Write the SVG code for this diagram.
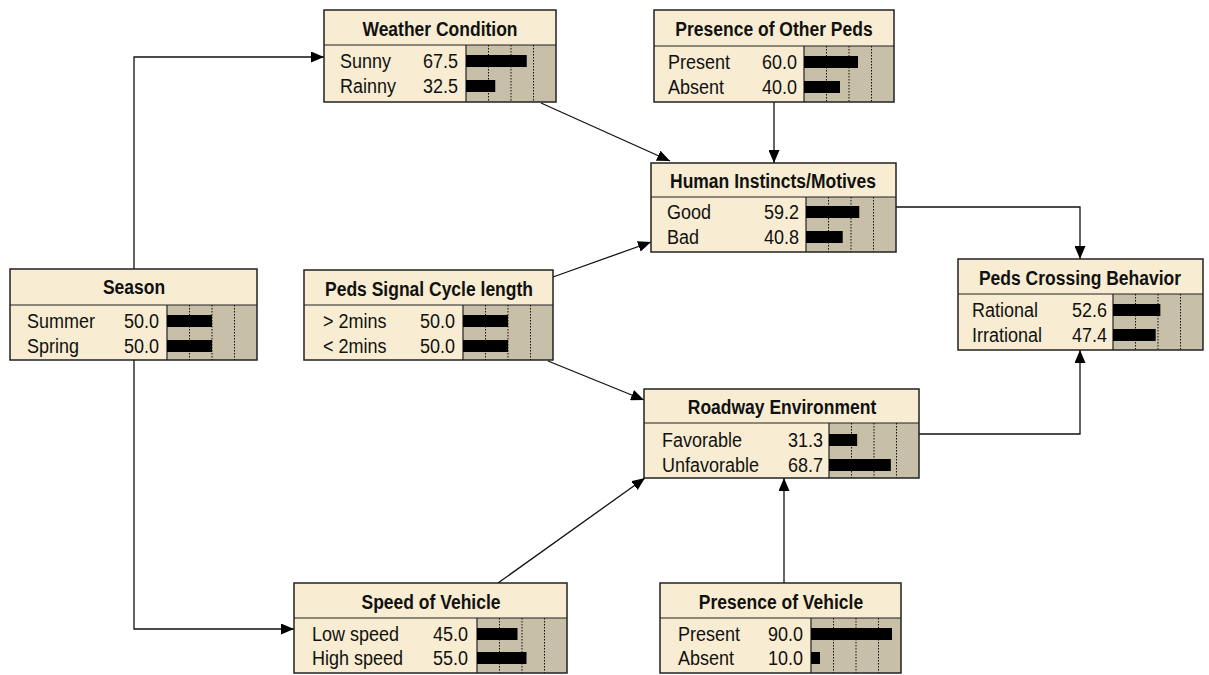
<svg xmlns="http://www.w3.org/2000/svg" width="1209" height="675" viewBox="0 0 1209 675">
<style>
.bg{fill:#F8EDD2;stroke:none}
.ba{fill:#C8BFA8;stroke:none}
.bd{fill:none;stroke:#222;stroke-width:1.5}
.ln{stroke:#222;stroke-width:1.2}
.dt{stroke:#111;stroke-width:1;stroke-dasharray:1.5 1.5}
.bar{fill:#000}
.h{font-family:"Liberation Sans",Arial,sans-serif;font-weight:bold;font-size:17.5px;fill:#111;text-anchor:middle}
.t{font-family:"Liberation Sans",Arial,sans-serif;font-size:18px;fill:#111}
.n{font-family:"Liberation Sans",Arial,sans-serif;font-size:18px;fill:#111;text-anchor:end}
.c{fill:none;stroke:#111;stroke-width:1.3;marker-end:url(#ah)}
</style>
<defs>
<marker id="ah" markerUnits="userSpaceOnUse" markerWidth="13" markerHeight="11" refX="13" refY="5.5" orient="auto">
<path d="M0,0 L13,5.5 L0,11 z" fill="#000"/>
</marker>
</defs>
<rect width="1209" height="675" fill="#fff"/>
<g id="connectors">
<path class="c" d="M134,269 V57 H324"/>
<path class="c" d="M134,360 V629 H294"/>
<path class="c" d="M541,103 L670,161"/>
<path class="c" d="M774,102 V163"/>
<path class="c" d="M553,277 L651,242"/>
<path class="c" d="M548,361 L644,400"/>
<path class="c" d="M896,207 H1080 V259"/>
<path class="c" d="M919,434 H1080 V350"/>
<path class="c" d="M498,583 L645,478"/>
<path class="c" d="M784,583 V478"/>
</g>
<g id="weather">
<rect class="bg" x="324" y="10" width="232" height="92"/>
<rect class="ba" x="466" y="45" width="90" height="57"/>
<line class="ln" x1="324" y1="45" x2="556" y2="45"/>
<line class="ln" x1="466" y1="45" x2="466" y2="102"/>
<line class="dt" x1="488.5" y1="45" x2="488.5" y2="102"/>
<line class="dt" x1="511" y1="45" x2="511" y2="102"/>
<line class="dt" x1="533.5" y1="45" x2="533.5" y2="102"/>
<rect class="bar" x="466" y="55" width="60.75" height="12"/>
<rect class="bar" x="466" y="80" width="29.25" height="12"/>
<text class="h" transform="translate(440,36) scale(1,1.2)">Weather Condition</text>
<text class="t" transform="translate(340,68) scale(1,1.12)">Sunny</text>
<text class="n" transform="translate(458,68) scale(1,1.12)">67.5</text>
<text class="t" transform="translate(340,93) scale(1,1.12)">Rainny</text>
<text class="n" transform="translate(458,93) scale(1,1.12)">32.5</text>
<rect class="bd" x="324" y="10" width="232" height="92"/>
</g>
<g id="presence-other-peds">
<rect class="bg" x="654" y="10" width="240" height="92"/>
<rect class="ba" x="804" y="46" width="90" height="56"/>
<line class="ln" x1="654" y1="46" x2="894" y2="46"/>
<line class="ln" x1="804" y1="46" x2="804" y2="102"/>
<line class="dt" x1="826.5" y1="46" x2="826.5" y2="102"/>
<line class="dt" x1="849" y1="46" x2="849" y2="102"/>
<line class="dt" x1="871.5" y1="46" x2="871.5" y2="102"/>
<rect class="bar" x="804" y="56" width="54" height="12"/>
<rect class="bar" x="804" y="81" width="36" height="12"/>
<text class="h" transform="translate(774,36) scale(1,1.2)">Presence of Other Peds</text>
<text class="t" transform="translate(668,69) scale(1,1.12)">Present</text>
<text class="n" transform="translate(797,69) scale(1,1.12)">60.0</text>
<text class="t" transform="translate(668,94) scale(1,1.12)">Absent</text>
<text class="n" transform="translate(797,94) scale(1,1.12)">40.0</text>
<rect class="bd" x="654" y="10" width="240" height="92"/>
</g>
<g id="human-instincts">
<rect class="bg" x="651" y="163" width="245" height="89"/>
<rect class="ba" x="806" y="197" width="90" height="55"/>
<line class="ln" x1="651" y1="197" x2="896" y2="197"/>
<line class="ln" x1="806" y1="197" x2="806" y2="252"/>
<line class="dt" x1="828.5" y1="197" x2="828.5" y2="252"/>
<line class="dt" x1="851" y1="197" x2="851" y2="252"/>
<line class="dt" x1="873.5" y1="197" x2="873.5" y2="252"/>
<rect class="bar" x="806" y="206" width="53.28" height="12"/>
<rect class="bar" x="806" y="231" width="36.72" height="12"/>
<text class="h" transform="translate(773,188) scale(1,1.2)">Human Instincts/Motives</text>
<text class="t" transform="translate(667,219) scale(1,1.12)">Good</text>
<text class="n" transform="translate(799,219) scale(1,1.12)">59.2</text>
<text class="t" transform="translate(667,244) scale(1,1.12)">Bad</text>
<text class="n" transform="translate(799,244) scale(1,1.12)">40.8</text>
<rect class="bd" x="651" y="163" width="245" height="89"/>
</g>
<g id="season">
<rect class="bg" x="10" y="269" width="247" height="91"/>
<rect class="ba" x="167" y="305" width="90" height="55"/>
<line class="ln" x1="10" y1="305" x2="257" y2="305"/>
<line class="ln" x1="167" y1="305" x2="167" y2="360"/>
<line class="dt" x1="189.5" y1="305" x2="189.5" y2="360"/>
<line class="dt" x1="212" y1="305" x2="212" y2="360"/>
<line class="dt" x1="234.5" y1="305" x2="234.5" y2="360"/>
<rect class="bar" x="167" y="315" width="45" height="12"/>
<rect class="bar" x="167" y="340" width="45" height="12"/>
<text class="h" transform="translate(134,294) scale(1,1.2)">Season</text>
<text class="t" transform="translate(27,328) scale(1,1.12)">Summer</text>
<text class="n" transform="translate(159,328) scale(1,1.12)">50.0</text>
<text class="t" transform="translate(27,353) scale(1,1.12)">Spring</text>
<text class="n" transform="translate(159,353) scale(1,1.12)">50.0</text>
<rect class="bd" x="10" y="269" width="247" height="91"/>
</g>
<g id="peds-signal">
<rect class="bg" x="304" y="270" width="249" height="90"/>
<rect class="ba" x="463" y="305" width="90" height="55"/>
<line class="ln" x1="304" y1="305" x2="553" y2="305"/>
<line class="ln" x1="463" y1="305" x2="463" y2="360"/>
<line class="dt" x1="485.5" y1="305" x2="485.5" y2="360"/>
<line class="dt" x1="508" y1="305" x2="508" y2="360"/>
<line class="dt" x1="530.5" y1="305" x2="530.5" y2="360"/>
<rect class="bar" x="463" y="315" width="45" height="12"/>
<rect class="bar" x="463" y="340" width="45" height="12"/>
<text class="h" transform="translate(429,296) scale(1,1.2)">Peds Signal Cycle length</text>
<text class="t" transform="translate(323,328) scale(1,1.12)">&gt; 2mins</text>
<text class="n" transform="translate(455,328) scale(1,1.12)">50.0</text>
<text class="t" transform="translate(323,353) scale(1,1.12)">&lt; 2mins</text>
<text class="n" transform="translate(455,353) scale(1,1.12)">50.0</text>
<rect class="bd" x="304" y="270" width="249" height="90"/>
</g>
<g id="peds-crossing">
<rect class="bg" x="958" y="259" width="245" height="91"/>
<rect class="ba" x="1113" y="294" width="90" height="56"/>
<line class="ln" x1="958" y1="294" x2="1203" y2="294"/>
<line class="ln" x1="1113" y1="294" x2="1113" y2="350"/>
<line class="dt" x1="1135.5" y1="294" x2="1135.5" y2="350"/>
<line class="dt" x1="1158" y1="294" x2="1158" y2="350"/>
<line class="dt" x1="1180.5" y1="294" x2="1180.5" y2="350"/>
<rect class="bar" x="1113" y="304" width="47.34" height="12"/>
<rect class="bar" x="1113" y="329" width="42.66" height="12"/>
<text class="h" transform="translate(1080,285) scale(1,1.2)">Peds Crossing Behavior</text>
<text class="t" transform="translate(972,317) scale(1,1.12)">Rational</text>
<text class="n" transform="translate(1107,317) scale(1,1.12)">52.6</text>
<text class="t" transform="translate(972,342) scale(1,1.12)">Irrational</text>
<text class="n" transform="translate(1107,342) scale(1,1.12)">47.4</text>
<rect class="bd" x="958" y="259" width="245" height="91"/>
</g>
<g id="roadway">
<rect class="bg" x="644" y="389" width="275" height="89"/>
<rect class="ba" x="829" y="423" width="90" height="55"/>
<line class="ln" x1="644" y1="423" x2="919" y2="423"/>
<line class="ln" x1="829" y1="423" x2="829" y2="478"/>
<line class="dt" x1="851.5" y1="423" x2="851.5" y2="478"/>
<line class="dt" x1="874" y1="423" x2="874" y2="478"/>
<line class="dt" x1="896.5" y1="423" x2="896.5" y2="478"/>
<rect class="bar" x="829" y="434" width="28.17" height="12"/>
<rect class="bar" x="829" y="459" width="61.83" height="12"/>
<text class="h" transform="translate(782,414) scale(1,1.2)">Roadway Environment</text>
<text class="t" transform="translate(662,447) scale(1,1.12)">Favorable</text>
<text class="n" transform="translate(823,447) scale(1,1.12)">31.3</text>
<text class="t" transform="translate(662,472) scale(1,1.12)">Unfavorable</text>
<text class="n" transform="translate(823,472) scale(1,1.12)">68.7</text>
<rect class="bd" x="644" y="389" width="275" height="89"/>
</g>
<g id="speed-vehicle">
<rect class="bg" x="294" y="583" width="273" height="90"/>
<rect class="ba" x="477" y="618" width="90" height="55"/>
<line class="ln" x1="294" y1="618" x2="567" y2="618"/>
<line class="ln" x1="477" y1="618" x2="477" y2="673"/>
<line class="dt" x1="499.5" y1="618" x2="499.5" y2="673"/>
<line class="dt" x1="522" y1="618" x2="522" y2="673"/>
<line class="dt" x1="544.5" y1="618" x2="544.5" y2="673"/>
<rect class="bar" x="477" y="628" width="40.5" height="12"/>
<rect class="bar" x="477" y="652" width="49.5" height="12"/>
<text class="h" transform="translate(431,609) scale(1,1.2)">Speed of Vehicle</text>
<text class="t" transform="translate(312,641) scale(1,1.12)">Low speed</text>
<text class="n" transform="translate(468,641) scale(1,1.12)">45.0</text>
<text class="t" transform="translate(312,665) scale(1,1.12)">High speed</text>
<text class="n" transform="translate(468,665) scale(1,1.12)">55.0</text>
<rect class="bd" x="294" y="583" width="273" height="90"/>
</g>
<g id="presence-vehicle">
<rect class="bg" x="660" y="583" width="241" height="90"/>
<rect class="ba" x="811" y="618" width="90" height="55"/>
<line class="ln" x1="660" y1="618" x2="901" y2="618"/>
<line class="ln" x1="811" y1="618" x2="811" y2="673"/>
<line class="dt" x1="833.5" y1="618" x2="833.5" y2="673"/>
<line class="dt" x1="856" y1="618" x2="856" y2="673"/>
<line class="dt" x1="878.5" y1="618" x2="878.5" y2="673"/>
<rect class="bar" x="811" y="628" width="81" height="12"/>
<rect class="bar" x="811" y="652" width="9" height="12"/>
<text class="h" transform="translate(781,609) scale(1,1.2)">Presence of Vehicle</text>
<text class="t" transform="translate(678,641) scale(1,1.12)">Present</text>
<text class="n" transform="translate(803,641) scale(1,1.12)">90.0</text>
<text class="t" transform="translate(678,665) scale(1,1.12)">Absent</text>
<text class="n" transform="translate(803,665) scale(1,1.12)">10.0</text>
<rect class="bd" x="660" y="583" width="241" height="90"/>
</g>
</svg>
